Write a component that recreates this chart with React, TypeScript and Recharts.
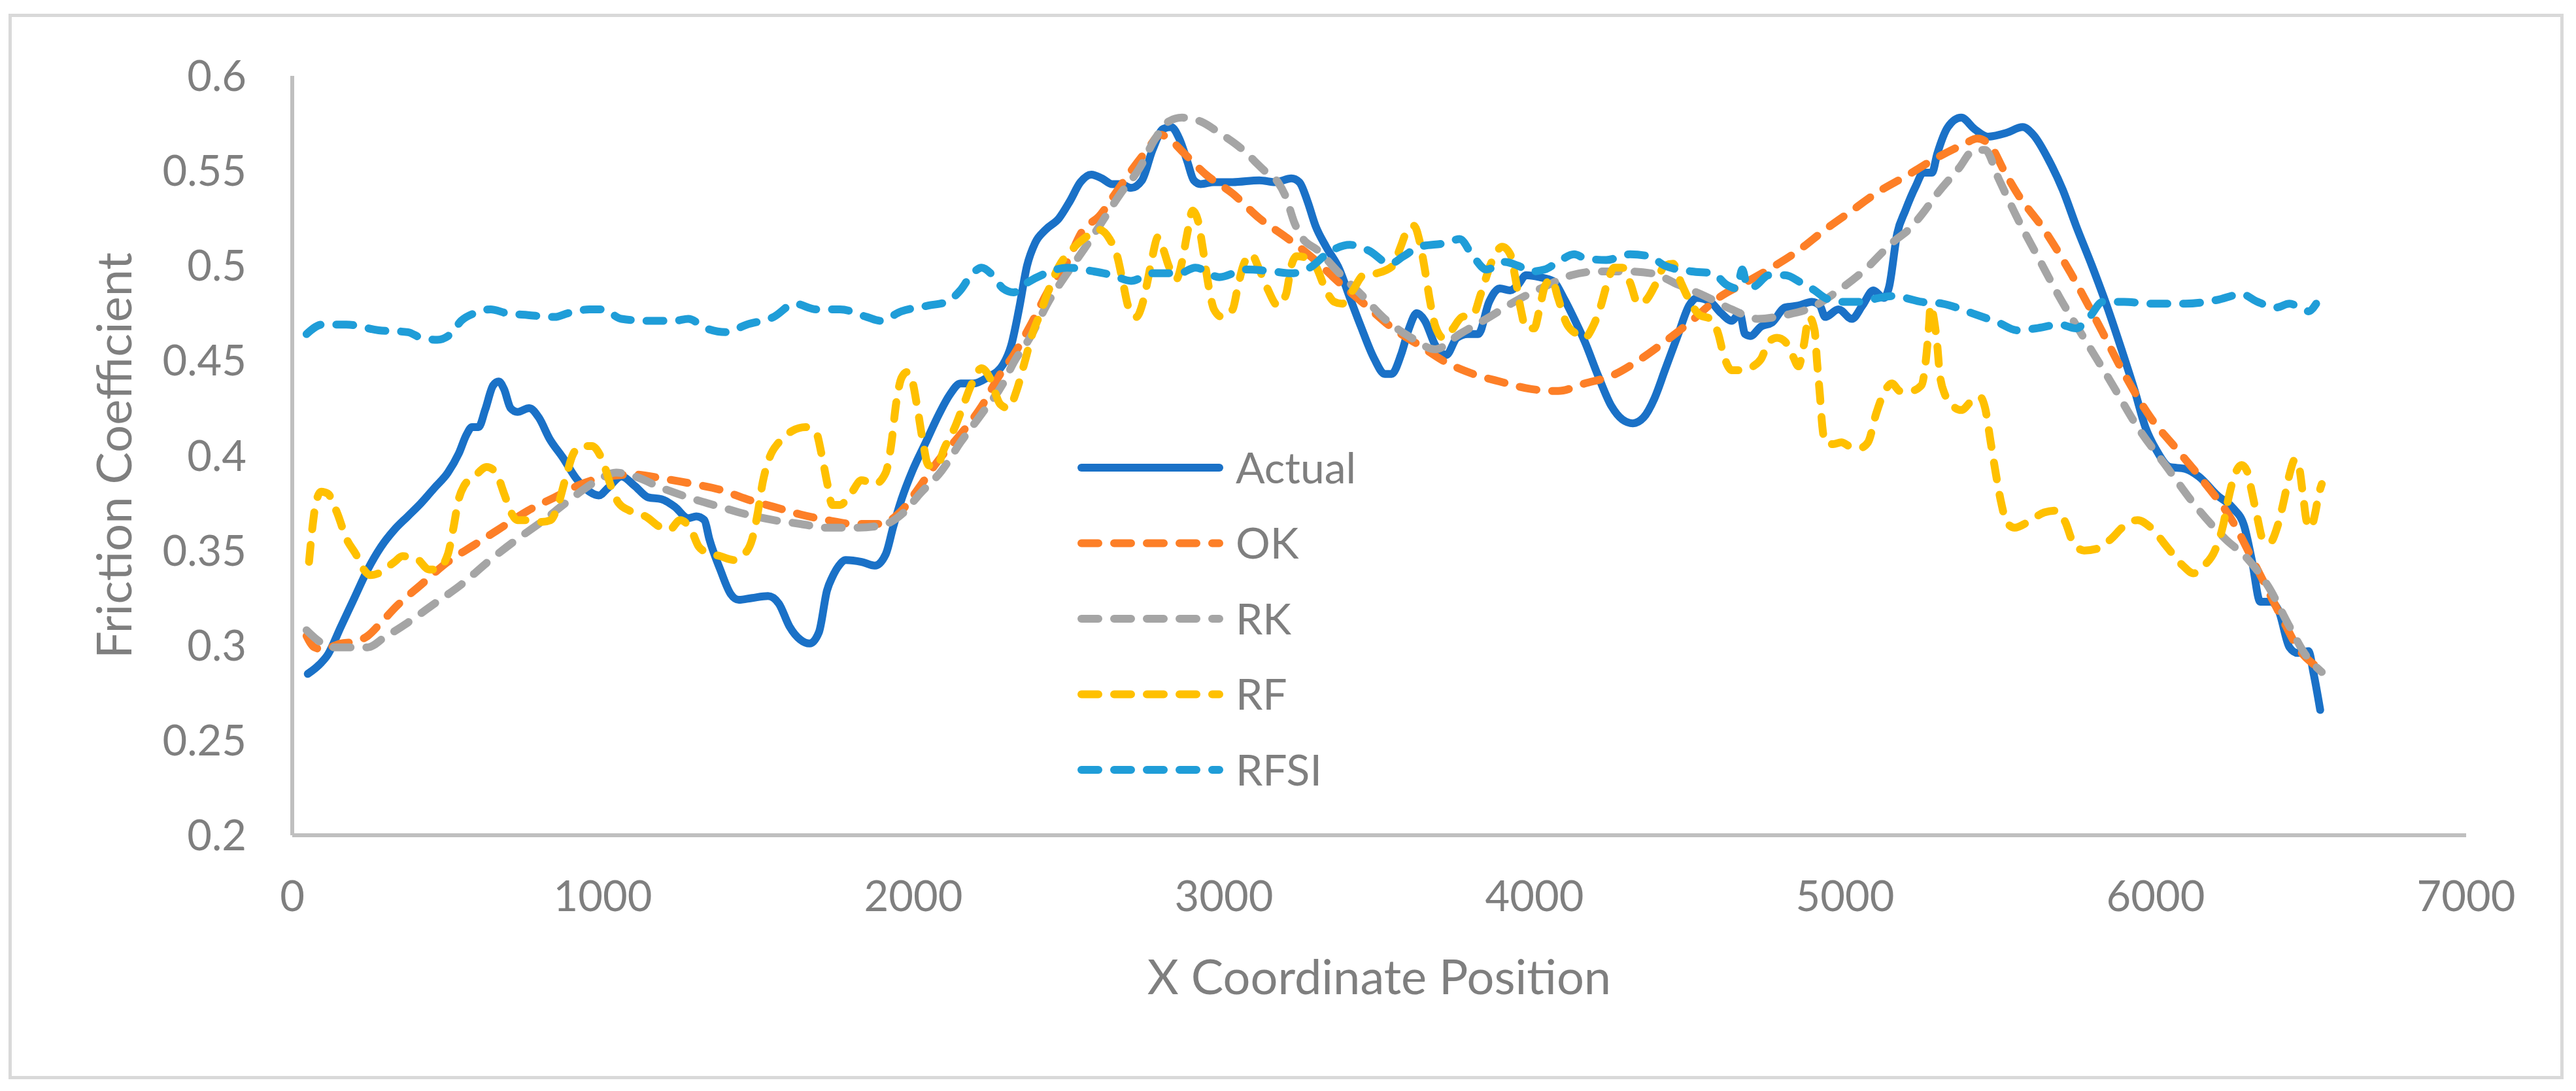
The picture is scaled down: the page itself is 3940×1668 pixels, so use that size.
import { LineChart, Line, XAxis, YAxis, Legend } from 'recharts';

// [x position, friction coefficient]
const ACTUAL: [number, number][] = [
  [50, 0.285], [88, 0.29], [114, 0.295], [157, 0.31], [200, 0.325], [243, 0.34], [286, 0.352], [329, 0.361],
  [372, 0.368], [415, 0.375], [458, 0.383], [501, 0.391], [536, 0.401], [561, 0.411], [579, 0.415], [600, 0.415],
  [621, 0.424], [647, 0.437], [665, 0.439], [682, 0.435], [703, 0.425], [725, 0.423], [763, 0.425], [794, 0.42],
  [828, 0.409], [871, 0.399], [914, 0.388], [957, 0.381], [987, 0.379], [1017, 0.383], [1060, 0.389], [1103, 0.384],
  [1146, 0.378], [1189, 0.377], [1232, 0.373], [1275, 0.367], [1301, 0.368], [1327, 0.366], [1343, 0.356], [1378, 0.34],
  [1412, 0.327], [1438, 0.324], [1481, 0.325], [1532, 0.326], [1567, 0.322], [1601, 0.31], [1636, 0.303], [1666, 0.301],
  [1696, 0.307], [1722, 0.329], [1739, 0.336], [1760, 0.342], [1782, 0.345], [1833, 0.344], [1876, 0.342], [1911, 0.348],
  [1936, 0.363], [1962, 0.377], [1997, 0.392], [2040, 0.407], [2083, 0.422], [2117, 0.432], [2152, 0.438], [2194, 0.438],
  [2237, 0.441], [2289, 0.448], [2315, 0.458], [2340, 0.477], [2366, 0.5], [2392, 0.512], [2426, 0.519], [2469, 0.525],
  [2504, 0.534], [2538, 0.544], [2573, 0.548], [2607, 0.546], [2640, 0.543], [2667, 0.543], [2701, 0.541], [2736, 0.545],
  [2770, 0.561], [2804, 0.572], [2830, 0.573], [2856, 0.567], [2882, 0.555], [2903, 0.545], [2925, 0.543], [2968, 0.544],
  [3028, 0.544], [3114, 0.545], [3166, 0.544], [3217, 0.546], [3243, 0.544], [3269, 0.534], [3295, 0.521], [3329, 0.51],
  [3372, 0.498], [3406, 0.483], [3441, 0.468], [3484, 0.451], [3518, 0.443], [3540, 0.443], [3570, 0.453], [3596, 0.467],
  [3621, 0.475], [3647, 0.471], [3681, 0.458], [3716, 0.453], [3750, 0.462], [3785, 0.464], [3819, 0.464], [3854, 0.481],
  [3888, 0.488], [3922, 0.487], [3947, 0.49], [3973, 0.495], [4016, 0.494], [4059, 0.492], [4094, 0.483], [4128, 0.472],
  [4162, 0.46], [4205, 0.442], [4248, 0.426], [4283, 0.419], [4317, 0.417], [4351, 0.42], [4386, 0.43], [4420, 0.445],
  [4463, 0.464], [4498, 0.479], [4523, 0.483], [4566, 0.481], [4601, 0.475], [4635, 0.471], [4661, 0.475], [4678, 0.464],
  [4695, 0.463], [4730, 0.468], [4764, 0.47], [4807, 0.478], [4850, 0.479], [4893, 0.481], [4919, 0.479], [4936, 0.473],
  [4979, 0.477], [5022, 0.472], [5056, 0.479], [5091, 0.487], [5125, 0.483], [5142, 0.489], [5168, 0.517], [5194, 0.529],
  [5228, 0.542], [5252, 0.549], [5280, 0.549], [5297, 0.559], [5331, 0.573], [5374, 0.578], [5417, 0.572], [5460, 0.568],
  [5520, 0.57], [5572, 0.573], [5606, 0.569], [5658, 0.555], [5701, 0.54], [5744, 0.521], [5795, 0.5], [5847, 0.477],
  [5890, 0.456], [5933, 0.434], [5967, 0.415], [6002, 0.403], [6045, 0.394], [6096, 0.393], [6139, 0.389], [6199, 0.379],
  [6251, 0.372], [6285, 0.363], [6311, 0.344], [6337, 0.323], [6371, 0.323], [6397, 0.318], [6431, 0.299], [6457, 0.296],
  [6492, 0.297], [6509, 0.285], [6530, 0.266],
];

const OK: [number, number][] = [
  [46, 0.305], [71, 0.299], [97, 0.298], [157, 0.301], [200, 0.302], [243, 0.305], [286, 0.312], [338, 0.321],
  [415, 0.332], [501, 0.344], [587, 0.353], [673, 0.362], [759, 0.371], [845, 0.378], [931, 0.385], [1017, 0.389],
  [1103, 0.39], [1189, 0.388], [1292, 0.385], [1378, 0.382], [1464, 0.377], [1550, 0.373], [1636, 0.369], [1722, 0.366],
  [1808, 0.364], [1893, 0.364], [1962, 0.371], [2022, 0.384], [2083, 0.398], [2151, 0.411], [2220, 0.426], [2280, 0.443],
  [2323, 0.453], [2375, 0.468], [2435, 0.487], [2495, 0.502], [2547, 0.519], [2598, 0.526], [2650, 0.538], [2701, 0.55],
  [2753, 0.561], [2796, 0.569], [2822, 0.567], [2873, 0.559], [2942, 0.548], [3028, 0.538], [3114, 0.525], [3200, 0.515],
  [3286, 0.504], [3372, 0.491], [3458, 0.479], [3544, 0.467], [3630, 0.458], [3716, 0.449], [3802, 0.443], [3888, 0.439],
  [3990, 0.435], [4076, 0.434], [4162, 0.438], [4248, 0.442], [4334, 0.45], [4420, 0.46], [4506, 0.471], [4592, 0.483],
  [4678, 0.491], [4764, 0.499], [4850, 0.508], [4936, 0.519], [5022, 0.529], [5108, 0.539], [5194, 0.547], [5297, 0.557],
  [5383, 0.564], [5426, 0.567], [5469, 0.563], [5512, 0.55], [5555, 0.538], [5641, 0.519], [5727, 0.496], [5813, 0.47],
  [5899, 0.443], [5984, 0.42], [6070, 0.403], [6156, 0.386], [6242, 0.367], [6328, 0.34], [6414, 0.312], [6457, 0.299],
  [6517, 0.289],
];

const RK: [number, number][] = [
  [46, 0.308], [88, 0.302], [132, 0.299], [200, 0.299], [243, 0.299], [295, 0.304], [372, 0.312], [458, 0.322],
  [544, 0.332], [630, 0.344], [716, 0.355], [802, 0.365], [888, 0.376], [974, 0.386], [1043, 0.391], [1103, 0.389],
  [1189, 0.383], [1275, 0.378], [1378, 0.373], [1464, 0.369], [1550, 0.366], [1636, 0.364], [1722, 0.362], [1808, 0.362],
  [1893, 0.363], [1962, 0.369], [2022, 0.38], [2091, 0.392], [2152, 0.407], [2220, 0.422], [2289, 0.438], [2323, 0.449],
  [2375, 0.462], [2435, 0.481], [2495, 0.496], [2555, 0.51], [2607, 0.523], [2667, 0.538], [2727, 0.551], [2779, 0.567],
  [2822, 0.576], [2865, 0.578], [2925, 0.576], [2985, 0.57], [3054, 0.562], [3131, 0.55], [3174, 0.544], [3200, 0.536],
  [3226, 0.523], [3251, 0.515], [3303, 0.508], [3372, 0.496], [3441, 0.485], [3518, 0.472], [3604, 0.462], [3681, 0.456],
  [3759, 0.464], [3845, 0.472], [3946, 0.482], [4033, 0.489], [4119, 0.495], [4205, 0.497], [4291, 0.497], [4377, 0.496],
  [4463, 0.49], [4549, 0.484], [4635, 0.477], [4721, 0.472], [4807, 0.474], [4893, 0.478], [4979, 0.487], [5065, 0.498],
  [5151, 0.512], [5211, 0.52], [5252, 0.528], [5297, 0.538], [5365, 0.551], [5417, 0.561], [5451, 0.561], [5494, 0.546],
  [5555, 0.525], [5623, 0.504], [5692, 0.483], [5769, 0.462], [5855, 0.439], [5942, 0.415], [6036, 0.394], [6131, 0.373],
  [6225, 0.356], [6294, 0.346], [6363, 0.331], [6431, 0.31], [6483, 0.295], [6535, 0.286],
];

const RF: [number, number][] = [
  [54, 0.344], [67, 0.365], [76, 0.375], [93, 0.381], [114, 0.38], [144, 0.37], [175, 0.356], [205, 0.348],
  [230, 0.34], [252, 0.337], [278, 0.338], [329, 0.344], [355, 0.347], [398, 0.346], [441, 0.34], [467, 0.34],
  [501, 0.348], [518, 0.361], [536, 0.377], [553, 0.384], [587, 0.389], [626, 0.394], [656, 0.391], [682, 0.38],
  [708, 0.369], [725, 0.366], [759, 0.366], [802, 0.365], [832, 0.366], [854, 0.373], [880, 0.388], [905, 0.401],
  [931, 0.405], [965, 0.405], [1000, 0.397], [1026, 0.384], [1051, 0.375], [1086, 0.371], [1137, 0.368], [1189, 0.362],
  [1215, 0.361], [1249, 0.366], [1284, 0.361], [1309, 0.352], [1335, 0.349], [1378, 0.347], [1421, 0.345], [1455, 0.348],
  [1481, 0.356], [1498, 0.369], [1515, 0.386], [1537, 0.399], [1567, 0.407], [1610, 0.413], [1653, 0.415], [1687, 0.412],
  [1704, 0.401], [1722, 0.386], [1739, 0.374], [1764, 0.374], [1799, 0.38], [1833, 0.387], [1876, 0.385], [1911, 0.391],
  [1928, 0.405], [1945, 0.428], [1962, 0.441], [1980, 0.444], [1997, 0.439], [2014, 0.424], [2031, 0.407], [2048, 0.395],
  [2074, 0.394], [2100, 0.404], [2134, 0.415], [2160, 0.426], [2186, 0.437], [2220, 0.446], [2246, 0.441], [2280, 0.427],
  [2306, 0.425], [2332, 0.434], [2358, 0.449], [2383, 0.464], [2409, 0.475], [2435, 0.487], [2470, 0.5], [2513, 0.509],
  [2555, 0.515], [2598, 0.519], [2632, 0.514], [2658, 0.504], [2675, 0.491], [2693, 0.478], [2718, 0.473], [2736, 0.479],
  [2753, 0.491], [2770, 0.505], [2787, 0.515], [2804, 0.509], [2822, 0.5], [2847, 0.493], [2865, 0.502], [2882, 0.517],
  [2899, 0.529], [2916, 0.524], [2933, 0.508], [2951, 0.489], [2968, 0.477], [2994, 0.473], [3028, 0.477], [3045, 0.489],
  [3062, 0.5], [3088, 0.506], [3114, 0.498], [3140, 0.488], [3174, 0.479], [3200, 0.485], [3217, 0.5], [3234, 0.505],
  [3269, 0.504], [3295, 0.5], [3329, 0.487], [3355, 0.481], [3380, 0.48], [3415, 0.487], [3449, 0.495], [3492, 0.496],
  [3544, 0.5], [3569, 0.51], [3595, 0.52], [3612, 0.521], [3630, 0.513], [3647, 0.498], [3664, 0.481], [3681, 0.468],
  [3707, 0.462], [3733, 0.466], [3767, 0.473], [3802, 0.474], [3827, 0.485], [3862, 0.502], [3896, 0.51], [3922, 0.506],
  [3939, 0.493], [3956, 0.477], [3973, 0.467], [3999, 0.467], [4016, 0.477], [4033, 0.489], [4055, 0.493], [4076, 0.483],
  [4102, 0.47], [4136, 0.464], [4162, 0.462], [4188, 0.468], [4214, 0.479], [4231, 0.489], [4257, 0.499], [4283, 0.499],
  [4308, 0.491], [4334, 0.48], [4360, 0.482], [4386, 0.489], [4420, 0.5], [4446, 0.501], [4472, 0.491], [4498, 0.482],
  [4532, 0.474], [4566, 0.472], [4592, 0.464], [4609, 0.453], [4635, 0.445], [4669, 0.445], [4704, 0.447], [4730, 0.451],
  [4755, 0.46], [4781, 0.462], [4807, 0.46], [4833, 0.452], [4850, 0.447], [4867, 0.458], [4884, 0.473], [4902, 0.466],
  [4910, 0.449], [4919, 0.432], [4927, 0.415], [4936, 0.407], [4962, 0.406], [4988, 0.407], [5013, 0.405], [5048, 0.404],
  [5074, 0.407], [5100, 0.422], [5125, 0.433], [5151, 0.438], [5177, 0.434], [5211, 0.434], [5246, 0.437], [5262, 0.453],
  [5271, 0.47], [5275, 0.479], [5288, 0.47], [5297, 0.458], [5305, 0.443], [5322, 0.432], [5348, 0.426], [5374, 0.424],
  [5409, 0.429], [5434, 0.431], [5451, 0.425], [5469, 0.407], [5486, 0.39], [5503, 0.375], [5520, 0.365], [5546, 0.362],
  [5589, 0.365], [5641, 0.37], [5679, 0.371], [5709, 0.365], [5735, 0.354], [5770, 0.35], [5813, 0.351], [5856, 0.356],
  [5899, 0.363], [5942, 0.366], [5985, 0.362], [6036, 0.352], [6088, 0.342], [6122, 0.338], [6156, 0.342], [6191, 0.35],
  [6217, 0.363], [6234, 0.377], [6251, 0.388], [6277, 0.395], [6294, 0.392], [6311, 0.38], [6328, 0.367], [6345, 0.356],
  [6367, 0.354], [6393, 0.363], [6414, 0.377], [6431, 0.39], [6449, 0.398], [6462, 0.394], [6474, 0.38], [6487, 0.365],
  [6500, 0.362], [6513, 0.369], [6526, 0.38], [6535, 0.385],
];

const RFSI: [number, number][] = [
  [46, 0.464], [97, 0.469], [174, 0.469], [278, 0.466], [372, 0.465], [415, 0.462], [467, 0.461], [510, 0.464],
  [544, 0.471], [587, 0.475], [639, 0.477], [690, 0.475], [759, 0.474], [845, 0.473], [888, 0.475], [957, 0.477],
  [1000, 0.477], [1060, 0.472], [1146, 0.471], [1232, 0.471], [1275, 0.472], [1333, 0.467], [1395, 0.465], [1464, 0.469],
  [1550, 0.473], [1618, 0.48], [1687, 0.477], [1764, 0.477], [1850, 0.473], [1893, 0.471], [1962, 0.476], [2048, 0.479],
  [2108, 0.481], [2151, 0.487], [2186, 0.495], [2220, 0.499], [2255, 0.495], [2289, 0.488], [2323, 0.486], [2366, 0.491],
  [2427, 0.496], [2495, 0.499], [2581, 0.497], [2641, 0.495], [2701, 0.492], [2770, 0.496], [2856, 0.496], [2908, 0.499],
  [2985, 0.494], [3071, 0.498], [3157, 0.497], [3217, 0.496], [3277, 0.499], [3337, 0.507], [3406, 0.511], [3466, 0.508],
  [3535, 0.501], [3578, 0.505], [3630, 0.51], [3716, 0.512], [3759, 0.514], [3802, 0.505], [3845, 0.498], [3905, 0.502],
  [3947, 0.5], [3990, 0.497], [4033, 0.498], [4076, 0.502], [4128, 0.506], [4162, 0.504], [4231, 0.503], [4308, 0.506],
  [4369, 0.505], [4420, 0.5], [4506, 0.497], [4575, 0.496], [4618, 0.49], [4652, 0.488], [4669, 0.498], [4686, 0.489],
  [4704, 0.489], [4755, 0.495], [4807, 0.495], [4859, 0.491], [4902, 0.487], [4936, 0.483], [4988, 0.481], [5048, 0.481],
  [5108, 0.483], [5151, 0.484], [5194, 0.483], [5245, 0.481], [5314, 0.48], [5409, 0.475], [5494, 0.47], [5555, 0.466],
  [5615, 0.467], [5692, 0.469], [5744, 0.467], [5787, 0.473], [5830, 0.481], [5898, 0.481], [5984, 0.48], [6096, 0.48],
  [6199, 0.482], [6277, 0.485], [6328, 0.481], [6388, 0.478], [6431, 0.48], [6474, 0.477], [6492, 0.476], [6517, 0.48],
];

const X_TICKS = [0, 1000, 2000, 3000, 4000, 5000, 6000, 7000];
const Y_TICKS = [0.2, 0.25, 0.3, 0.35, 0.4, 0.45, 0.5, 0.55, 0.6];

const DASH = '26 24';
const SERIES = [
  { name: 'Actual', color: '#1a71c7', dash: undefined, points: ACTUAL },
  { name: 'OK', color: '#fd7f27', dash: DASH, points: OK },
  { name: 'RK', color: '#a5a5a5', dash: DASH, points: RK },
  { name: 'RF', color: '#ffc000', dash: DASH, points: RF },
  { name: 'RFSI', color: '#1f9dd8', dash: DASH, points: RFSI },
];

const TEXT = '#7f7f7f';
const AXIS = '#bfbfbf';
const FONT = 'Lato, "Open Sans", sans-serif';

const toRows = (pts: [number, number][]) => pts.map(([x, y]) => ({ x, y }));
const fmtY = (v: number) => String(Number(v.toFixed(2)));

function LegendBox() {
  const rowGap = 115.5;
  return (
    <svg width={700} height={600} style={{ fontFamily: FONT, overflow: 'visible', display: 'block' }}>
      {SERIES.map((s, i) => {
        const y = 40 + i * rowGap;
        return (
          <g key={s.name}>
            <line
              x1={14}
              x2={225}
              y1={y}
              y2={y}
              stroke={s.color}
              strokeWidth={12}
              strokeDasharray={s.dash}
              strokeLinecap="round"
            />
            <text x={250} y={y} dy="0.36em" fontSize={66} fill={TEXT}>
              {s.name}
            </text>
          </g>
        );
      })}
    </svg>
  );
}

export default function App() {
  return (
    <div style={{ position: 'absolute', left: 0, top: 0, width: 3940, height: 1668, background: '#fff' }}>
      <div
        style={{
          position: 'absolute',
          left: 13,
          top: 21,
          width: 3908,
          height: 1629,
          border: '5px solid #d9d9d9',
          boxSizing: 'border-box',
        }}
      />
      <div style={{ position: 'absolute', left: 0, top: 0 }}>
        <LineChart
          width={3940}
          height={1668}
          margin={{ top: 116, right: 168, left: 247, bottom: 271 }}
          style={{ fontFamily: FONT }}
        >
          <XAxis
            type="number"
            dataKey="x"
            domain={[0, 7000]}
            ticks={X_TICKS}
            allowDataOverflow
            height={120}
            axisLine={{ stroke: AXIS, strokeWidth: 6 }}
            tickLine={false}
            tickSize={0}
            tickMargin={70}
            tick={{ fill: TEXT, fontSize: 65 }}
            label={{ value: 'X Coordinate Position', position: 'bottom', offset: 70, fill: TEXT, fontSize: 74 }}
          />
          <YAxis
            type="number"
            domain={[0.2, 0.6]}
            ticks={Y_TICKS}
            allowDataOverflow
            width={200}
            axisLine={{ stroke: AXIS, strokeWidth: 6 }}
            tickLine={false}
            tickSize={0}
            tickMargin={70}
            tickFormatter={fmtY}
            tick={{ fill: TEXT, fontSize: 65 }}
            label={{
              value: 'Friction Coefficient',
              angle: -90,
              position: 'insideLeft',
              offset: -72,
              fill: TEXT,
              fontSize: 74,
              style: { textAnchor: 'middle' },
            }}
          />
          <Legend
            layout="vertical"
            align="center"
            verticalAlign="middle"
            content={() => <LegendBox />}
            wrapperStyle={{ left: 1640, top: 675, width: 700, height: 600 }}
          />
          {SERIES.map((s) => (
            <Line
              key={s.name}
              name={s.name}
              data={toRows(s.points)}
              dataKey="y"
              type="monotone"
              stroke={s.color}
              strokeWidth={12}
              strokeDasharray={s.dash}
              strokeLinecap="round"
              strokeLinejoin="round"
              dot={false}
              activeDot={false}
              isAnimationActive={false}
            />
          ))}
        </LineChart>
      </div>
    </div>
  );
}
